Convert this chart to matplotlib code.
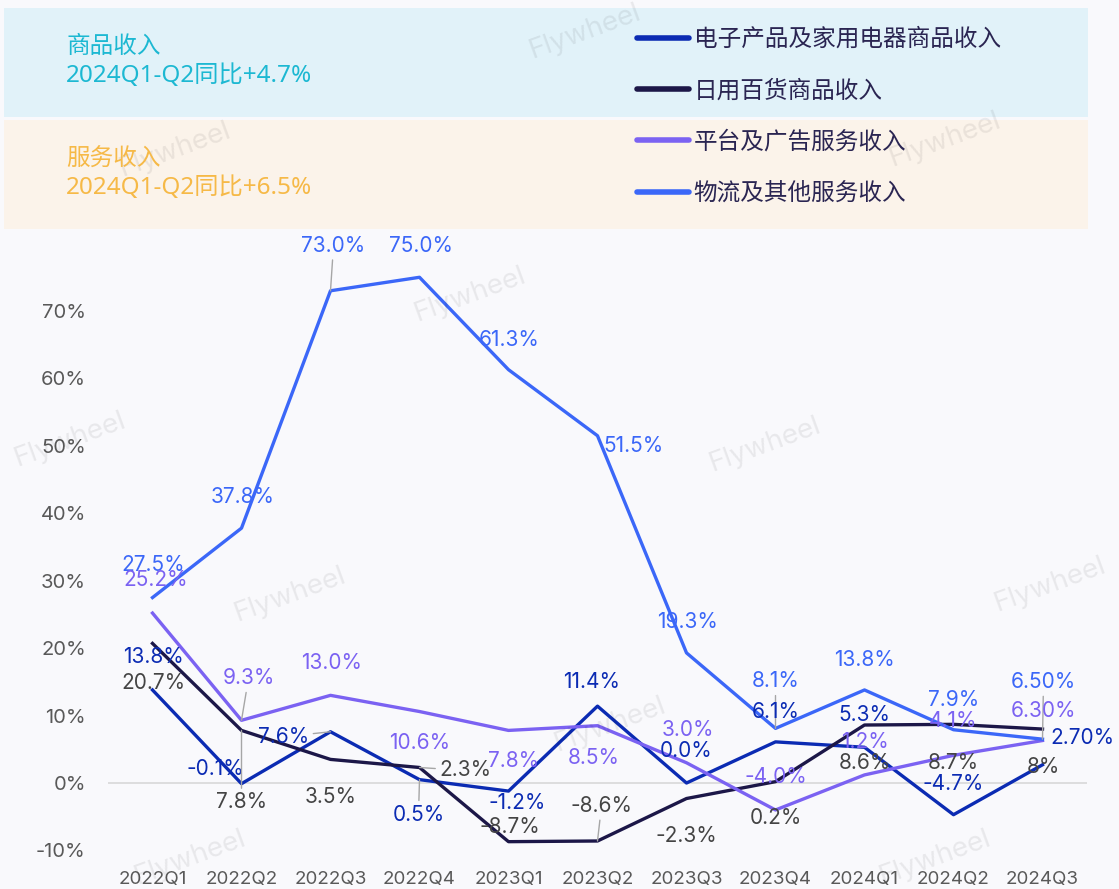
import matplotlib.pyplot as plt
from matplotlib.patches import Rectangle
from matplotlib.lines import Line2D

plt.rcParams['font.family'] = ['Inter', 'Noto Sans CJK SC', 'DejaVu Sans']

# Datos (% interanual)
quarters = ['2022Q1', '2022Q2', '2022Q3', '2022Q4', '2023Q1', '2023Q2',
            '2023Q3', '2023Q4', '2024Q1', '2024Q2', '2024Q3']
electronics = [13.8, -0.1, 7.6, 0.5, -1.2, 11.4, 0.0, 6.1, 5.3, -4.7, 2.7]
daily = [20.7, 7.8, 3.5, 2.3, -8.7, -8.6, -2.3, 0.2, 8.6, 8.7, 8.0]
platform = [25.2, 9.3, 13.0, 10.6, 7.8, 8.5, 3.0, -4.0, 1.2, 4.1, 6.3]
logistics = [27.5, 37.8, 73.0, 75.0, 61.3, 51.5, 19.3, 8.1, 13.8, 7.9, 6.5]

electronics_txt = ['13.8%', '-0.1%', '7.6%', '0.5%', '-1.2%', '11.4%', '0.0%', '6.1%', '5.3%', '-4.7%', '2.70%']
daily_txt = ['20.7%', '7.8%', '3.5%', '2.3%', '-8.7%', '-8.6%', '-2.3%', '0.2%', '8.6%', '8.7%', '8%']
platform_txt = ['25.2%', '9.3%', '13.0%', '10.6%', '7.8%', '8.5%', '3.0%', '-4.0%', '1.2%', '4.1%', '6.30%']
logistics_txt = ['27.5%', '37.8%', '73.0%', '75.0%', '61.3%', '51.5%', '19.3%', '8.1%', '13.8%', '7.9%', '6.50%']

series_names = ['电子产品及家用电器商品收入', '日用百货商品收入', '平台及广告服务收入', '物流及其他服务收入']

# Posición de las etiquetas (desplazamiento en píxeles) e índices con línea guía
logistics_off = [(1, 33), (1, 31), (3, 45), (1, 31), (1, 30), (36, -10), (1, 31), (0, 47), (0, 30), (0, 30), (1, 57)]
platform_off = [(3, 33), (7, 42), (1, 32), (0, -31), (5, -31), (-4, -32), (1, 33), (0, 33), (0, 33), (0, 34), (1, 30)]
electronics_off = [(1, 33), (-26, 15), (-47, -5), (-1, -35), (9, -12), (-6, 24), (0, 32), (0, 30), (0, 32), (0, 31), (40, 27)]
daily_off = [(1, -40), (0, -72), (0, -38), (46, -3), (1, 15), (4, 35), (0, -37), (0, -36), (0, -38), (0, -39), (1, -38)]

C_ELEC = '#0b2bb3'
C_DAILY = '#1c1748'
C_PLAT = '#7b62f2'
C_LOG = '#3b67f8'
BG = '#f9f9fc'

fig = plt.figure(figsize=(11.19, 8.89), dpi=100, facecolor=BG)

# Cajas de cabecera
fig.patches.append(Rectangle((4 / 1119, 1 - 117 / 889), 1084 / 1119, 109 / 889,
                             transform=fig.transFigure, facecolor='#e1f2f9', edgecolor='none', zorder=0))
fig.patches.append(Rectangle((4 / 1119, 1 - 229 / 889), 1084 / 1119, 109 / 889,
                             transform=fig.transFigure, facecolor='#fbf3ea', edgecolor='none', zorder=0))

head_font = ['Noto Sans', 'Noto Sans CJK SC']
fig.text(66 / 1119, 1 - 47 / 889, '商品收入', color='#1cb8d2', fontsize=17,
         family=head_font, va='center', ha='left')
fig.text(66 / 1119, 1 - 76 / 889, '2024Q1-Q2同比+4.7%', color='#1cb8d2', fontsize=17.5,
         family=head_font, va='center', ha='left')
fig.text(66 / 1119, 1 - 160 / 889, '服务收入', color='#f6b947', fontsize=17,
         family=head_font, va='center', ha='left')
fig.text(66 / 1119, 1 - 188 / 889, '2024Q1-Q2同比+6.5%', color='#f6b947', fontsize=17.5,
         family=head_font, va='center', ha='left')

# Marcas de agua
for wx, wy in [(585, 32), (945, 140), (175, 150), (470, 295), (765, 445), (70, 440),
               (290, 595), (1050, 585), (610, 725), (190, 858), (935, 858)]:
    fig.text(wx / 1119, 1 - wy / 889, 'Flywheel', fontsize=20, color='#000000', alpha=0.07,
             rotation=20, ha='center', va='center', zorder=1)

ax = fig.add_axes([108 / 1119, 1 - 865 / 889, 979 / 1119, 625 / 889])
ax.set_facecolor('none')
x = list(range(len(quarters)))

ax.axhline(0, color='#d8d8d8', lw=1.2, zorder=1)
ax.plot(x, electronics, color=C_ELEC, lw=2.4, zorder=3)
ax.plot(x, daily, color=C_DAILY, lw=2.4, zorder=3)
ax.plot(x, platform, color=C_PLAT, lw=2.4, zorder=3)
ax.plot(x, logistics, color=C_LOG, lw=2.4, zorder=3)


def add_labels(values, texts, offsets, color, leaders):
    for i, (v, t, off) in enumerate(zip(values, texts, offsets)):
        props = None
        if i in leaders:
            props = dict(arrowstyle='-', color='#a6a6a6', lw=1, shrinkA=1, shrinkB=0)
        ax.annotate(t, (x[i], v), xytext=off, textcoords='offset pixels',
                    ha='center', va='center', fontsize=15, color=color,
                    arrowprops=props, zorder=4)


add_labels(logistics, logistics_txt, logistics_off, C_LOG, [2, 7, 10])
add_labels(platform, platform_txt, platform_off, C_PLAT, [1])
add_labels(electronics, electronics_txt, electronics_off, C_ELEC, [2, 3])
add_labels(daily, daily_txt, daily_off, '#444444', [1, 3, 5])

ax.set_xlim(-0.5, 10.5)
ax.set_ylim(-12.16, 80.53)
ax.set_xticks(x)
ax.set_xticklabels(quarters)
ax.set_yticks(range(-10, 80, 10))
ax.set_yticklabels([f'{t}%' for t in range(-10, 80, 10)])
ax.tick_params(axis='y', length=0, pad=16, labelsize=14.5, labelcolor='#595959')
ax.tick_params(axis='x', length=0, pad=4, labelsize=13.5, labelcolor='#595959')
for s in ax.spines.values():
    s.set_visible(False)

# Leyenda en la cabecera
handles = [Line2D([], [], color=c, lw=4, solid_capstyle='round')
           for c in [C_ELEC, C_DAILY, C_PLAT, C_LOG]]
leg = fig.legend(handles, series_names, loc='upper left', bbox_to_anchor=(637 / 1119, 1 - 28 / 889),
                 frameon=False, handlelength=2.2, handletextpad=0.2, labelspacing=1.2,
                 borderpad=0, borderaxespad=0,
                 prop={'family': 'Noto Sans CJK SC', 'size': 17})
for txt in leg.get_texts():
    txt.set_color('#2a2552')

fig.savefig('out.png', dpi=100, facecolor=BG)
